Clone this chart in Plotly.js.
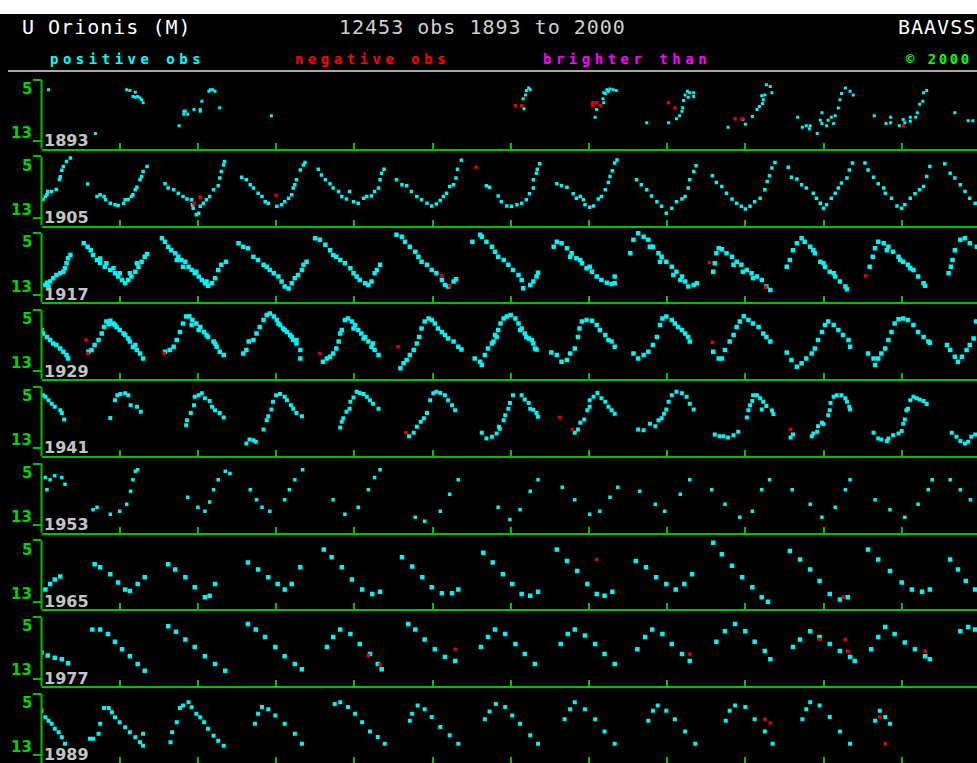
<!DOCTYPE html>
<html>
<head>
<meta charset="utf-8">
<script src="https://cdn.plot.ly/plotly-3.0.1.min.js"></script>
<style>
html,body{margin:0;padding:0;background:#000;overflow:hidden;}
#chart{width:977px;height:763px;}
</style>
</head>
<body>
<div id="chart"></div>
<script>
// ---- panel start years (12-year strips) ----
const panelStarts = [1893, 1905, 1917, 1929, 1941, 1953, 1965, 1977, 1989];
const yearLabels = ["1893", "1905", "1917", "1929", "1941", "1953", "1965", "1977", "1989"];
const magTicks = [5, 13];
const magTickLabels = ["5", "13"];

// ---- observations [decimal year, magnitude] ----
const pos1893 = [[1893.09,6.3],[1893.69,12.0],
[1894.09,6.3],[1894.13,6.4],[1894.20,6.65],[1894.17,7.2],[1894.20,7.3],[1894.23,7.2],[1894.26,7.4],[1894.28,7.6],[1894.30,8.0],
[1894.76,11.0],[1894.82,9.1],[1894.84,9.1],[1894.82,9.5],[1894.87,9.5],[1894.95,8.9],[1895.03,8.9],[1895.03,9.1],[1895.05,7.8],[1895.14,6.5],[1895.16,6.3],[1895.19,6.3],[1895.22,6.5],[1895.28,8.65],[1895.94,9.7],
[1899.23,6.1],[1899.25,6.3],[1899.20,6.4],[1899.19,7.0],[1899.16,7.5],[1899.17,8.8],
[1900.19,6.7],[1900.23,6.3],[1900.27,6.2],[1900.31,6.3],[1900.35,6.4],[1900.21,6.8],[1900.25,6.5],[1900.18,7.5],[1900.19,8.0],[1900.10,8.9],[1900.08,9.9],
[1900.74,10.6],[1901.02,10.6],[1901.12,10.1],[1901.16,9.7],[1901.19,9.1],[1901.20,8.65],[1901.21,7.7],[1901.23,7.0],[1901.26,6.5],[1901.29,6.7],[1901.34,6.7],[1901.34,7.2],[1901.27,7.3],
[1901.78,11.2],[1902.00,10.8],[1901.97,10.2],[1902.09,9.8],[1902.15,8.9],[1902.18,8.5],[1902.22,8.1],[1902.23,7.6],[1902.25,7.0],[1902.27,5.65],[1902.32,5.9],[1902.34,6.7],[1902.21,7.1],
[1902.67,9.9],[1902.73,11.2],[1902.78,11.0],[1902.83,11.0],[1902.82,11.4],[1902.92,12.0],[1902.96,10.3],[1902.98,9.3],[1902.98,10.7],[1903.04,11.0],[1903.06,10.3],[1903.10,9.9],[1903.13,10.7],[1903.15,9.7],[1903.19,8.7],[1903.21,7.6],[1903.23,6.8],[1903.28,6.1],[1903.34,6.5],[1903.38,7.0],
[1903.65,9.7],[1903.80,10.7],[1903.86,9.9],[1903.86,10.6],[1903.97,11.0],[1904.02,10.2],[1904.04,10.6],[1904.11,10.4],[1904.11,9.9],[1904.18,9.9],[1904.20,9.3],[1904.23,8.2],[1904.27,7.8],[1904.28,6.7],[1904.32,6.4],
[1904.68,9.3],[1904.85,10.35],[1904.91,10.35]];
const neg1893 = [[1899.06,8.4],[1899.14,8.4],[1900.05,8.0],[1900.10,8.0],[1900.05,8.4],[1900.15,8.4],[1901.02,8.0],[1901.10,8.7],[1901.87,10.1],[1901.96,10.1],[1904.02,11.0]];

const pos1905 = [[1905.02,10.6],[1905.05,10.2],[1905.07,10.0],[1905.08,9.55],[1905.13,9.55],[1905.19,9.3],[1905.23,8.0],[1905.24,7.65],[1905.26,6.8],[1905.28,6.3],[1905.32,5.65],[1905.37,5.2],[1905.59,8.6],
[1905.71,10.2],[1905.75,10.0],[1905.80,10.2],[1905.82,10.65],[1905.88,11.1],[1905.94,11.3],[1905.98,11.4],[1906.05,11.1],[1906.07,10.65],[1906.11,10.6],[1906.15,10.2],[1906.17,10.0],[1906.20,9.35],[1906.22,9.0],[1906.26,8.05],[1906.28,7.6],[1906.30,6.95],[1906.35,6.3],
[1906.58,8.55],[1906.62,9.1],[1906.69,9.35],[1906.75,9.8],[1906.81,10.2],[1906.86,10.55],[1906.92,10.65],[1906.93,11.3],[1906.94,11.75],[1906.98,12.6],[1907.01,12.4],[1907.03,11.5],[1907.07,11.1],[1907.11,10.65],[1907.15,10.2],[1907.20,9.35],[1907.26,8.8],[1907.28,7.8],[1907.30,6.95],[1907.33,6.1],[1907.34,5.65],
[1907.56,7.7],[1907.62,8.05],[1907.67,8.7],[1907.71,9.1],[1907.77,9.8],[1907.82,10.2],[1907.86,10.9],[1907.90,11.1],[1908.01,11.5],[1908.07,11.3],[1908.11,10.9],[1908.16,10.45],[1908.20,10.0],[1908.22,9.1],[1908.24,8.7],[1908.26,8.05],[1908.31,6.75],[1908.35,6.1],[1908.37,5.8],
[1908.54,6.65],[1908.58,7.4],[1908.63,8.05],[1908.69,8.55],[1908.73,9.1],[1908.80,9.55],[1908.84,10.2],[1908.90,10.55],[1908.94,9.55],[1908.99,10.9],[1909.05,11.1],[1909.12,10.45],[1909.16,10.2],[1909.22,10.15],[1909.26,9.55],[1909.31,9.1],[1909.33,8.05],[1909.35,7.2],[1909.38,6.65],
[1909.54,8.05],[1909.61,8.7],[1909.67,8.8],[1909.73,9.55],[1909.80,10.2],[1909.86,10.65],[1909.93,11.1],[1909.99,11.45],[1910.05,11.2],[1910.10,10.75],[1910.14,10.2],[1910.18,9.8],[1910.22,8.9],[1910.27,8.7],[1910.30,7.8],[1910.32,6.65],[1910.37,5.5],
[1910.69,8.8],[1910.73,9.0],[1910.84,10.15],[1910.88,10.9],[1910.95,11.45],[1911.01,11.5],[1911.08,11.3],[1911.14,11.1],[1911.20,10.65],[1911.24,9.85],[1911.29,9.1],[1911.29,8.05],[1911.33,7.2],[1911.34,6.65],[1911.37,5.95],
[1911.59,8.55],[1911.65,8.8],[1911.72,9.0],[1911.80,9.85],[1911.84,10.45],[1911.89,10.2],[1911.93,10.65],[1911.95,11.3],[1912.01,11.6],[1912.06,11.45],[1912.12,10.55],[1912.16,10.2],[1912.21,9.35],[1912.25,8.4],[1912.27,7.6],[1912.30,6.85],[1912.33,5.85],[1912.36,5.45],
[1912.61,8.05],[1912.67,8.7],[1912.74,9.35],[1912.80,10.15],[1912.87,10.9],[1912.93,11.5],[1912.99,12.4],[1913.06,11.75],[1913.12,10.9],[1913.19,10.55],[1913.23,10.2],[1913.27,9.1],[1913.29,8.05],[1913.34,6.95],[1913.37,6.2],
[1913.58,7.5],[1913.63,8.4],[1913.70,8.9],[1913.76,9.8],[1913.83,10.55],[1913.89,11.1],[1913.95,11.5],[1914.00,11.85],[1914.06,11.5],[1914.12,10.9],[1914.19,10.45],[1914.25,9.35],[1914.28,8.25],[1914.31,7.5],[1914.34,6.5],[1914.38,5.8],
[1914.55,6.4],[1914.59,7.7],[1914.66,7.95],[1914.72,8.7],[1914.78,9.1],[1914.87,9.8],[1914.91,10.45],[1914.96,11.1],[1915.00,11.75],[1915.04,11.3],[1915.10,10.45],[1915.15,9.8],[1915.19,9.1],[1915.23,8.45],[1915.30,7.8],[1915.33,6.75],[1915.37,5.85],
[1915.53,5.85],[1915.57,6.75],[1915.64,7.7],[1915.70,8.55],[1915.77,9.1],[1915.79,9.8],[1915.87,10.45],[1915.94,11.45],[1916.00,11.75],[1916.04,11.3],[1916.11,10.45],[1916.17,9.85],[1916.23,9.35],[1916.28,8.9],[1916.32,7.6],[1916.36,6.3],
[1916.55,5.95],[1916.62,7.2],[1916.68,7.8],[1916.75,8.7],[1916.81,9.55],[1916.87,10.45],[1916.94,11.1]];
const neg1905 = [[1906.95,11.1],[1907.03,10.3],[1908.00,10.05],[1910.56,6.4]];

const pos1917 = [[1917.05,11.75],[1917.07,11.45],[1917.09,11.95],[1917.11,11.3],[1917.15,10.85],[1917.19,10.45],[1917.24,10.2],[1917.28,10.0],[1917.30,9.55],[1917.32,8.9],[1917.34,8.25],[1917.37,7.85],
[1917.54,6.3],[1917.59,6.75],[1917.63,7.2],[1917.66,7.85],[1917.71,8.5],[1917.75,8.85],[1917.81,9.35],[1917.88,9.8],[1917.94,10.2],[1917.98,10.65],[1918.03,11.1],[1918.07,11.5],[1918.11,11.1],[1918.15,10.65],[1918.20,10.0],[1918.24,9.35],[1918.28,8.7],[1918.32,8.05],[1918.35,7.7],
[1917.75,8.3],[1917.83,8.9],[1917.92,9.55],[1918.00,10.2],[1918.13,10.2],[1918.22,8.9],
[1918.54,5.65],[1918.58,6.1],[1918.62,6.75],[1918.66,7.2],[1918.71,7.6],[1918.75,8.05],[1918.79,8.5],[1918.84,8.7],[1918.88,9.35],[1918.92,9.8],[1918.96,10.2],[1919.01,10.65],[1919.05,11.1],[1919.09,11.5],[1919.13,11.85],[1919.18,11.5],[1919.22,10.85],[1919.26,9.8],[1919.30,9.1],[1919.36,8.7],
[1918.73,8.5],[1918.81,9.35],[1918.98,10.0],[1919.11,11.3],
[1919.52,6.3],[1919.58,6.75],[1919.64,6.95],[1919.71,8.05],[1919.77,8.5],[1919.84,9.1],[1919.88,9.35],[1919.92,9.8],[1919.97,10.2],[1920.03,10.65],[1920.07,11.3],[1920.11,11.95],[1920.16,12.2],[1920.20,11.5],[1920.24,10.85],[1920.28,10.45],[1920.33,9.8],[1920.35,9.1],[1920.39,8.7],
[1920.50,5.65],[1920.56,5.85],[1920.63,6.5],[1920.69,7.2],[1920.73,7.85],[1920.77,8.05],[1920.82,8.5],[1920.88,8.9],[1920.95,9.55],[1920.99,10.2],[1921.03,10.65],[1921.07,11.1],[1921.14,11.5],[1921.18,11.75],[1921.22,11.3],[1921.26,10.2],[1921.29,9.8],[1921.33,9.1],
[1921.54,5.2],[1921.61,5.45],[1921.65,6.1],[1921.71,6.75],[1921.78,7.4],[1921.82,8.05],[1921.86,8.7],[1921.93,9.1],[1921.99,9.8],[1922.05,10.2],[1922.12,11.1],[1922.16,11.75],[1922.20,11.95],[1922.27,11.3],[1922.30,11.0],
[1922.51,6.1],[1922.61,5.2],[1922.63,5.45],[1922.69,6.1],[1922.76,6.75],[1922.80,7.4],[1922.84,8.05],[1922.91,8.5],[1922.97,9.1],[1923.03,9.8],[1923.10,10.45],[1923.14,11.1],[1923.16,12.15],[1923.25,11.75],[1923.29,11.3],[1923.33,10.65],[1923.35,10.15],
[1923.55,6.75],[1923.59,6.1],[1923.65,6.3],[1923.72,6.95],[1923.78,7.6],[1923.84,8.25],[1923.91,8.9],[1923.97,9.55],[1924.04,10.0],[1924.10,10.65],[1924.16,11.1],[1924.23,11.45],[1924.29,11.6],[1924.33,10.65],[1924.33,11.5],
[1923.76,8.05],[1923.89,8.5],[1924.01,9.35],
[1924.53,7.6],[1924.57,5.85],[1924.63,5.0],[1924.70,5.45],[1924.76,5.85],[1924.82,6.75],[1924.89,7.6],[1924.93,8.05],[1924.99,8.7],[1925.06,9.35],[1925.12,10.0],[1925.19,10.65],[1925.23,11.3],[1925.27,11.95],[1925.34,11.75],[1925.38,11.5],
[1924.78,6.75],[1924.91,8.7],[1925.08,10.45],[1925.17,11.1],
[1925.59,10.0],[1925.61,8.9],[1925.63,7.6],[1925.66,6.95],[1925.70,7.1],[1925.76,7.6],[1925.83,8.05],[1925.89,8.7],[1925.95,9.1],[1926.02,9.8],[1926.08,10.2],[1926.15,10.65],[1926.21,11.1],[1926.27,11.95],[1926.32,12.4],
[1925.85,9.1],[1925.97,10.0],[1926.10,10.85],
[1926.53,9.35],[1926.57,8.5],[1926.61,7.2],[1926.66,6.3],[1926.72,5.65],[1926.76,6.1],[1926.83,6.75],[1926.89,7.6],[1926.96,8.7],[1927.02,9.35],[1927.08,10.0],[1927.15,10.65],[1927.21,11.3],[1927.28,11.95],[1927.30,12.3],
[1926.87,7.2],[1927.00,8.9],[1927.13,10.2],
[1927.59,9.35],[1927.63,8.05],[1927.66,6.95],[1927.70,6.1],[1927.77,6.3],[1927.83,6.75],[1927.89,7.4],[1927.96,8.05],[1928.02,8.7],[1928.08,9.1],[1928.15,9.8],[1928.21,10.65],[1928.28,11.5],[1928.30,11.85],
[1927.81,7.2],[1927.98,8.5],[1928.11,9.55],
[1928.60,10.2],[1928.63,9.35],[1928.65,8.5],[1928.68,7.2],[1928.75,5.85],[1928.81,5.65],[1928.87,6.3],[1928.96,6.75]];
const neg1917 = [[1922.12,10.55],[1922.22,11.85],[1925.54,8.8],[1926.26,12.05],[1927.54,10.55]];

const pos1929 = [[1929.00,7.6],[1929.02,8.05],[1929.07,8.5],[1929.11,8.9],[1929.15,9.35],[1929.19,9.55],[1929.24,10.0],[1929.28,10.45],[1929.32,10.85],[1929.34,11.3],
[1929.60,10.45],[1929.64,10.2],[1929.68,9.55],[1929.73,8.9],[1929.77,8.05],[1929.80,7.2],[1929.83,6.5],[1929.88,6.4],[1929.92,6.75],[1929.96,7.2],[1930.00,7.6],[1930.07,8.25],[1930.13,9.1],[1930.17,9.8],[1930.22,10.2],[1930.26,10.65],[1930.30,11.3],
[1929.86,6.85],[1929.94,6.95],[1930.05,8.05],[1930.11,8.7],[1930.20,9.55],
[1930.58,10.45],[1930.64,10.2],[1930.69,9.8],[1930.73,8.9],[1930.77,7.85],[1930.81,6.75],[1930.85,5.85],[1930.89,5.8],[1930.93,6.3],[1930.98,6.75],[1931.03,7.2],[1931.08,7.85],[1931.13,8.5],[1931.20,9.1],[1931.24,9.8],[1931.28,10.45],[1931.33,10.85],
[1930.92,6.95],[1931.01,7.6],[1931.11,8.25],[1931.22,9.35],
[1931.58,10.65],[1931.62,10.2],[1931.65,9.1],[1931.71,8.9],[1931.75,8.05],[1931.79,7.2],[1931.84,6.3],[1931.88,5.65],[1931.92,5.45],[1931.97,5.85],[1932.01,6.3],[1932.05,6.95],[1932.09,7.4],[1932.14,7.85],[1932.18,8.25],[1932.22,8.9],[1932.26,9.35],[1932.31,10.2],[1932.31,11.3],
[1932.03,6.75],[1932.11,7.6],[1932.20,8.5],[1932.26,8.9],
[1932.60,11.75],[1932.65,11.3],[1932.69,11.1],[1932.73,10.65],[1932.77,10.0],[1932.80,9.1],[1932.82,8.05],[1932.84,7.6],[1932.88,6.3],[1932.92,6.1],[1932.97,6.5],[1933.01,6.95],[1933.05,7.6],[1933.09,8.05],[1933.14,8.5],[1933.18,9.1],[1933.22,9.8],[1933.26,10.2],[1933.31,10.85],
[1932.99,7.4],[1933.12,8.7],[1933.24,9.35],
[1933.59,12.6],[1933.63,11.95],[1933.67,11.5],[1933.71,10.85],[1933.76,10.2],[1933.80,9.35],[1933.83,8.5],[1933.86,7.4],[1933.90,6.5],[1933.95,6.1],[1933.99,6.3],[1934.03,6.75],[1934.07,7.4],[1934.12,7.85],[1934.16,8.25],[1934.20,8.7],[1934.27,9.1],[1934.33,9.8],[1934.37,10.15],
[1934.54,11.3],[1934.61,11.75],[1934.63,12.15],[1934.67,10.85],[1934.71,10.0],[1934.76,9.35],[1934.78,9.1],[1934.80,8.25],[1934.82,8.5],[1934.84,7.6],[1934.87,6.75],[1934.91,6.1],[1934.95,5.85],[1935.00,5.65],[1935.06,6.1],[1935.10,6.75],[1935.14,7.4],[1935.18,8.05],[1935.23,8.7],[1935.27,8.9],[1935.31,10.0],[1935.33,10.15],
[1935.12,7.6],[1935.20,8.5],[1935.29,9.35],
[1935.52,10.55],[1935.59,10.85],[1935.65,11.75],[1935.72,11.5],[1935.76,10.65],[1935.82,10.0],[1935.86,8.5],[1935.88,7.4],[1935.91,6.5],[1935.97,6.3],[1936.04,6.4],[1936.10,6.95],[1936.14,7.6],[1936.21,8.25],[1936.25,8.9],[1936.29,9.1],[1936.33,9.8],
[1936.57,10.65],[1936.63,11.3],[1936.70,10.85],[1936.76,10.45],[1936.82,9.55],[1936.87,8.5],[1936.91,6.95],[1936.94,6.1],[1936.99,5.85],[1937.06,6.3],[1937.10,6.75],[1937.14,7.2],[1937.19,7.6],[1937.23,8.05],[1937.27,8.5],[1937.29,9.1],
[1937.59,10.45],[1937.66,11.3],[1937.70,11.3],[1937.74,10.2],[1937.80,9.1],[1937.85,8.25],[1937.89,7.2],[1937.93,6.5],[1937.98,5.8],[1938.04,6.3],[1938.10,6.75],[1938.17,7.2],[1938.23,8.05],[1938.27,8.5],[1938.32,9.1],
[1938.53,10.55],[1938.59,11.5],[1938.66,12.4],[1938.72,11.95],[1938.78,11.3],[1938.85,10.65],[1938.89,10.0],[1938.93,8.9],[1938.98,7.85],[1939.02,6.95],[1939.06,6.5],[1939.13,6.95],[1939.19,7.6],[1939.25,8.25],[1939.32,8.9],[1939.34,9.8],
[1939.57,10.65],[1939.64,11.3],[1939.66,12.15],[1939.70,11.3],[1939.74,10.65],[1939.79,10.0],[1939.83,8.9],[1939.87,7.85],[1939.91,6.75],[1939.96,6.2],[1940.02,6.1],[1940.08,6.3],[1940.15,6.95],[1940.21,7.85],[1940.28,8.5],[1940.34,9.1],[1940.36,9.25],
[1940.58,9.55],[1940.62,10.2],[1940.68,11.1],[1940.72,11.75],[1940.77,11.1],[1940.83,10.2],[1940.87,9.55],[1940.92,8.7],[1940.95,6.5]];
const neg1929 = [[1929.57,8.9],[1929.59,10.65],[1930.57,10.65],[1932.56,10.65],[1933.56,9.8],[1937.58,9.2]];

const pos1941 = [[1941.02,6.1],[1941.05,6.3],[1941.09,6.75],[1941.13,7.2],[1941.17,7.6],[1941.24,8.05],[1941.26,8.4],[1941.29,9.25],
[1941.88,9.05],[1941.94,6.75],[1941.97,6.1],[1942.01,5.95],[1942.07,5.85],[1942.11,6.1],[1942.14,7.4],[1942.22,7.6],[1942.27,8.25],
[1942.85,10.0],[1942.86,9.35],[1942.91,8.4],[1942.95,7.4],[1942.96,6.3],[1943.01,6.1],[1943.05,5.85],[1943.09,6.5],[1943.15,6.85],[1943.18,7.6],[1943.22,8.05],[1943.28,8.4],[1943.33,9.0],
[1943.62,12.4],[1943.66,11.85],[1943.71,11.95],[1943.74,12.15],[1943.84,10.55],[1943.88,9.35],[1943.90,8.85],[1943.94,7.95],[1943.96,6.95],[1944.00,6.1],[1944.05,5.95],[1944.11,6.3],[1944.14,6.75],[1944.19,7.4],[1944.22,7.85],[1944.26,8.4],[1944.33,8.85],
[1944.82,10.3],[1944.84,9.55],[1944.86,9.1],[1944.90,8.25],[1944.94,7.85],[1944.95,6.95],[1944.99,6.4],[1945.03,5.65],[1945.07,5.8],[1945.12,5.95],[1945.16,6.3],[1945.20,6.75],[1945.24,7.2],[1945.31,7.85],
[1945.70,11.45],[1945.76,11.0],[1945.80,10.2],[1945.85,9.55],[1945.89,9.1],[1945.93,8.4],[1945.97,6.75],[1946.01,5.85],[1946.05,5.65],[1946.10,5.8],[1946.16,6.1],[1946.20,6.75],[1946.25,7.4],[1946.29,8.05],
[1946.63,11.0],[1946.69,11.75],[1946.76,11.5],[1946.82,11.1],[1946.85,10.2],[1946.86,10.45],[1946.91,9.35],[1946.93,8.7],[1946.97,7.85],[1946.99,7.1],[1947.03,6.1],[1947.14,6.1],[1947.18,6.65],[1947.23,7.1],[1947.25,7.85],[1947.29,8.0],[1947.33,8.4],[1947.35,8.9],
[1947.82,11.0],[1947.86,10.55],[1947.89,9.7],[1947.94,9.25],[1947.98,8.05],[1948.01,7.6],[1948.01,6.75],[1948.06,6.3],[1948.11,5.8],[1948.16,6.5],[1948.21,6.95],[1948.25,7.6],[1948.29,8.05],[1948.33,8.5],
[1948.63,10.55],[1948.70,10.65],[1948.78,9.8],[1948.85,10.15],[1948.89,9.35],[1948.93,9.1],[1948.96,8.5],[1948.99,7.95],[1949.02,6.95],[1949.06,6.1],[1949.12,5.65],[1949.19,5.85],[1949.25,6.3],[1949.29,7.2],[1949.34,7.95],
[1949.61,11.2],[1949.67,11.45],[1949.72,11.45],[1949.78,11.6],[1949.85,11.3],[1949.91,10.85],[1950.02,9.0],[1950.04,8.05],[1950.06,7.4],[1950.10,6.1],[1950.15,6.1],[1950.19,6.5],[1950.23,6.95],[1950.27,7.5],[1950.34,8.1],[1950.36,8.55],[1950.09,6.85],[1950.21,7.95],
[1950.58,11.6],[1950.61,11.2],[1950.85,11.45],[1950.87,11.1],[1950.92,10.85],[1950.93,10.15],[1950.98,9.7],[1951.00,9.85],[1951.06,8.7],[1951.08,8.05],[1951.09,7.1],[1951.13,6.3],[1951.17,6.1],[1951.23,6.1],[1951.28,6.5],[1951.30,6.95],[1951.33,7.6],[1951.34,7.95],
[1951.64,11.0],[1951.70,11.75],[1951.74,11.85],[1951.81,12.05],[1951.83,11.75],[1951.89,11.3],[1951.96,11.1],[1952.00,10.75],[1952.02,9.8],[1952.04,9.25],[1952.06,8.05],[1952.08,7.85],[1952.11,6.75],[1952.15,6.3],[1952.19,6.5],[1952.23,6.65],[1952.28,6.85],[1952.32,7.25],
[1952.64,11.0],[1952.70,11.5],[1952.75,12.05],[1952.81,12.4],[1952.85,12.15],[1952.89,11.5],[1952.94,11.2]];
const neg1941 = [[1945.66,11.0],[1947.63,9.0],[1947.79,10.55],[1950.58,10.55]];

const pos1953 = [[1953.05,6.8],[1953.07,8.4],[1953.11,7.1],[1953.17,6.6],[1953.26,6.8],[1953.30,7.7],
[1953.66,11.0],[1953.71,10.7],[1953.88,11.6],[1954.00,11.2],[1954.09,10.3],[1954.14,8.6],[1954.17,7.1],[1954.20,6.0],[1954.23,5.8],
[1954.87,9.4],[1955.00,10.7],[1955.09,11.2],[1955.15,10.0],[1955.20,8.4],[1955.26,7.1],[1955.35,6.0],[1955.41,6.3],
[1955.67,8.4],[1955.75,9.7],[1955.82,10.7],[1955.92,11.2],[1956.11,9.7],[1956.17,8.4],[1956.24,7.1],[1956.34,5.8],
[1956.73,9.7],[1956.88,11.6],[1957.05,10.7],[1957.18,8.4],[1957.26,6.8],[1957.33,5.8],
[1957.78,12.0],[1957.90,12.5],[1958.10,11.2],[1958.22,9.0],[1958.33,7.1],
[1958.84,10.7],[1958.99,12.3],[1959.12,11.0],[1959.25,8.6],[1959.35,7.1],
[1959.66,8.1],[1959.82,9.7],[1960.01,11.6],[1960.14,11.2],[1960.27,9.4],[1960.37,8.1],
[1960.65,8.6],[1960.85,10.3],[1960.97,11.2],[1961.17,9.0],[1961.29,7.1],
[1961.57,8.4],[1961.74,10.3],[1961.93,12.0],[1962.09,11.2],[1962.21,8.4],[1962.31,7.1],
[1962.60,8.4],[1962.83,10.3],[1962.98,12.0],[1963.15,10.7],[1963.28,8.4],[1963.34,7.1],
[1963.66,9.7],[1963.85,11.0],[1964.04,12.0],[1964.21,10.3],[1964.34,8.4],[1964.39,7.1],
[1964.62,7.1],[1964.75,8.4],[1964.88,9.7]];
const neg1953 = [];

const pos1965 = [[1965.05,11.4],[1965.11,10.7],[1965.17,10.1],[1965.24,9.7],
[1965.68,8.1],[1965.75,8.5],[1965.88,9.4],[1965.98,10.5],[1966.07,11.4],[1966.13,11.6],[1966.23,10.7],[1966.32,9.8],
[1966.62,8.1],[1966.71,8.8],[1966.84,9.8],[1966.96,11.1],[1967.09,12.4],[1967.15,12.2],[1967.22,10.7],
[1967.64,7.9],[1967.77,8.8],[1967.90,9.8],[1968.02,10.7],[1968.11,11.4],[1968.20,10.7],[1968.31,8.5],
[1968.61,6.2],[1968.71,7.2],[1968.84,8.5],[1968.97,10.1],[1969.10,11.4],[1969.23,12.0],[1969.33,11.7],
[1969.61,7.2],[1969.74,8.4],[1969.87,9.8],[1969.99,11.1],[1970.12,11.9],[1970.25,11.9],[1970.33,11.4],
[1970.65,6.6],[1970.77,7.9],[1970.90,9.4],[1971.02,10.7],[1971.14,12.0],[1971.25,12.2],[1971.35,11.7],
[1971.59,6.2],[1971.72,7.7],[1971.85,9.0],[1971.98,10.7],[1972.10,12.0],[1972.20,12.2],[1972.30,11.7],
[1972.60,7.7],[1972.73,8.5],[1972.86,9.8],[1972.99,10.7],[1973.11,11.4],[1973.22,10.7],[1973.32,9.4],
[1973.59,5.3],[1973.70,6.8],[1973.83,8.3],[1973.96,9.8],[1974.09,11.1],[1974.21,12.4],[1974.29,13.0],
[1974.57,6.4],[1974.70,7.5],[1974.83,8.8],[1974.95,10.3],[1975.08,12.0],[1975.21,12.7],[1975.31,12.4],
[1975.57,6.2],[1975.70,7.5],[1975.85,9.0],[1976.00,10.5],[1976.13,11.4],[1976.26,11.7],[1976.36,11.4],
[1976.62,7.5],[1976.72,8.8],[1976.82,10.3],[1976.94,11.4]];
const neg1965 = [[1972.10,7.5],[1975.25,12.4]];

const pos1977 = [[1977.00,9.6],[1977.08,10.0],[1977.17,10.3],[1977.26,10.5],[1977.34,11.0],
[1977.65,6.6],[1977.75,6.6],[1977.85,7.2],[1977.94,8.2],[1978.03,9.2],[1978.13,10.1],[1978.23,11.1],[1978.32,12.0],
[1978.62,6.2],[1978.72,6.9],[1978.84,7.9],[1978.96,8.9],[1979.09,10.1],[1979.22,11.1],[1979.35,12.0],
[1979.64,5.9],[1979.74,6.6],[1979.86,7.6],[1979.99,8.9],[1980.11,10.1],[1980.24,11.1],[1980.33,11.8],
[1980.65,8.9],[1980.73,7.6],[1980.82,6.6],[1980.95,7.2],[1981.07,8.5],[1981.20,9.8],[1981.30,11.1],[1981.35,11.8],
[1981.69,5.9],[1981.78,6.6],[1981.90,7.9],[1982.03,9.2],[1982.16,10.2],[1982.29,10.7],
[1982.62,8.9],[1982.71,7.6],[1982.80,6.6],[1982.93,7.2],[1983.06,8.5],[1983.18,9.8],[1983.31,11.1],
[1983.64,8.5],[1983.73,7.2],[1983.82,6.6],[1983.95,7.4],[1984.08,8.5],[1984.20,9.8],[1984.33,11.1],
[1984.62,9.2],[1984.72,7.6],[1984.81,6.6],[1984.94,7.2],[1985.06,8.5],[1985.19,9.8],[1985.29,10.7],
[1985.63,8.2],[1985.74,6.85],[1985.87,5.9],[1986.00,6.85],[1986.12,8.2],[1986.25,9.4],[1986.32,10.5],
[1986.61,8.9],[1986.70,7.9],[1986.83,6.85],[1986.95,7.6],[1987.08,8.5],[1987.21,9.4],[1987.34,10.2],[1987.40,10.7],
[1987.61,9.2],[1987.70,7.6],[1987.79,6.3],[1987.91,7.2],[1988.04,8.3],[1988.17,9.2],[1988.30,10.1],[1988.36,10.5],
[1988.75,6.85],[1988.85,6.3],[1988.94,6.6]];
const neg1977 = [[1981.18,10.0],[1981.33,11.2],[1982.29,9.2],[1985.29,9.8],[1986.95,7.9],[1987.28,7.9],[1987.31,9.45],[1988.30,9.45]];

const pos1989 = [[1989.00,7.2],[1989.05,8.05],[1989.09,8.5],[1989.13,8.9],[1989.17,9.55],[1989.22,10.0],[1989.26,10.65],[1989.30,11.5],
[1989.62,10.85],[1989.66,10.85],[1989.73,10.2],[1989.75,8.9],[1989.80,6.85],[1989.86,6.85],[1989.90,7.4],[1989.94,8.05],[1990.00,8.7],[1990.07,9.35],[1990.13,10.0],[1990.20,10.65],[1990.26,11.3],[1990.30,11.75],[1990.30,10.2],
[1990.65,11.3],[1990.67,10.0],[1990.73,8.7],[1990.77,6.85],[1990.81,6.5],[1990.88,6.1],[1990.92,6.75],[1990.98,7.6],[1991.03,8.05],[1991.08,8.7],[1991.13,9.55],[1991.20,10.45],[1991.26,11.1],[1991.33,11.75],
[1991.73,8.9],[1991.77,7.6],[1991.82,6.7],[1991.90,7.0],[1991.99,7.8],[1992.11,8.9],[1992.24,10.2],[1992.33,11.5],
[1992.75,6.3],[1992.82,6.1],[1992.92,6.7],[1993.01,7.6],[1993.10,8.7],[1993.20,9.9],[1993.30,10.6],[1993.39,11.5],
[1993.71,8.5],[1993.74,7.6],[1993.81,6.5],[1993.90,7.0],[1993.99,8.0],[1994.10,9.3],[1994.22,10.4],[1994.33,11.5],
[1994.67,8.3],[1994.73,7.3],[1994.81,6.3],[1994.93,6.7],[1995.02,7.8],[1995.12,8.9],[1995.25,10.4],[1995.35,11.5],
[1995.69,8.3],[1995.76,7.0],[1995.82,6.1],[1995.95,7.0],[1996.08,8.3],[1996.20,9.9],[1996.33,11.5],
[1996.76,8.5],[1996.82,7.2],[1996.88,6.5],[1996.99,7.2],[1997.10,8.3],[1997.23,9.9],[1997.36,11.5],
[1997.75,8.5],[1997.80,7.2],[1997.87,6.5],[1998.00,6.7],[1998.12,8.3],[1998.25,9.9],[1998.35,11.5],
[1998.73,8.3],[1998.78,7.0],[1998.83,6.1],[1998.95,6.5],[1999.08,8.0],[1999.21,9.9],[1999.34,11.5],
[1999.66,8.5],[1999.72,7.2],[1999.79,8.0],[1999.85,8.9]];
const neg1989 = [[1998.25,8.3],[1998.32,8.8],[1999.72,8.0],[1999.79,11.5]];

const positiveSets = [pos1893, pos1905, pos1917, pos1929, pos1941, pos1953, pos1965, pos1977, pos1989];
const negativeSets = [neg1893, neg1905, neg1917, neg1929, neg1941, neg1953, neg1965, neg1977, neg1989];

// ---- styling ----
const W = 977, H = 763;
const GREEN = '#00c000', LABELGREEN = '#00d400', CYAN = '#00f4f4', RED = '#e00000';
const markerSizes = [3, 3.5, 4.5, 4.5, 4, 3.5, 4.5, 4.5, 4];
const nP = panelStarts.length;
const xStartPx = 41.5, pxPerYear = 78.2;
const span = (W - xStartPx) / pxPerYear;
const mTop = 72, mBot = 0;
const plotH = H - mTop - mBot;
const pyToPaper = py => (H - mBot - py) / plotH;

const data = [];
const layout = {
  width: W, height: H,
  margin: {l: 0, r: 0, t: mTop, b: mBot, pad: 0},
  paper_bgcolor: '#000', plot_bgcolor: '#000',
  showlegend: false,
  annotations: [], shapes: []
};

for (let k = 0; k < nP; k++) {
  const s = panelStarts[k];
  const id = k === 0 ? '' : String(k + 1);
  const xa = 'x' + id, ya = 'y' + id;
  const pos = positiveSets[k], neg = negativeSets[k];
  data.push({type: 'scatter', mode: 'markers', xaxis: xa, yaxis: ya,
    x: pos.map(p => p[0]), y: pos.map(p => p[1]),
    marker: {symbol: 'square', size: markerSizes[k], color: CYAN, line: {width: 0}}, hoverinfo: 'skip'});
  data.push({type: 'scatter', mode: 'markers', xaxis: xa, yaxis: ya,
    x: neg.map(p => p[0]), y: neg.map(p => p[1]),
    marker: {symbol: 'square', size: 3.5, color: RED, line: {width: 0}}, hoverinfo: 'skip'});
  const tv = [];
  for (let t = 1; t < 12; t++) tv.push(s + t);
  layout['xaxis' + id] = {
    domain: [xStartPx / W, 1], range: [s, s + span], anchor: ya,
    showline: true, linecolor: GREEN, linewidth: 2, mirror: false,
    ticks: 'inside', tickvals: tv, ticklen: 6, tickwidth: 2, tickcolor: GREEN,
    showgrid: false, zeroline: false, showticklabels: false, fixedrange: true
  };
  layout['yaxis' + id] = {
    domain: [1 - (k + 1) / nP, 1 - k / nP], range: [14, 4], anchor: xa,
    showline: false, ticks: 'outside', tickvals: magTicks, ticklen: 8, tickwidth: 2, tickcolor: GREEN,
    showgrid: false, zeroline: false, showticklabels: false, fixedrange: true
  };
  layout.shapes.push({type: 'line', xref: xa + ' domain', yref: ya, x0: 0, x1: 0, y0: 5, y1: 14,
    line: {color: GREEN, width: 2}});
  const lblFont = {family: 'DejaVu Sans', size: 15, color: LABELGREEN, weight: 'bold'};
  layout.annotations.push({xref: 'paper', yref: ya, x: 33.5 / W, y: 6.2, text: magTickLabels[0],
    showarrow: false, xanchor: 'right', yanchor: 'middle', align: 'right', font: lblFont});
  layout.annotations.push({xref: 'paper', yref: ya, x: 33.5 / W, y: 11.95, text: magTickLabels[1],
    showarrow: false, xanchor: 'right', yanchor: 'middle', align: 'right', font: lblFont});
  layout.annotations.push({xref: 'paper', yref: ya, x: 42.5 / W, y: 12.95, text: yearLabels[k],
    showarrow: false, xanchor: 'left', yanchor: 'middle', align: 'left', height: 13, borderpad: 0,
    font: {family: 'DejaVu Sans', size: 16, color: '#c4c4c4', weight: 'bold'}});
}

// header
layout.shapes.push({type: 'rect', xref: 'paper', yref: 'paper', x0: -0.01, x1: 1.01,
  y0: pyToPaper(14), y1: pyToPaper(-5), fillcolor: '#ffffff', line: {width: 0}});
layout.shapes.push({type: 'line', xref: 'paper', yref: 'paper', x0: 8 / W, x1: 1.01,
  y0: pyToPaper(71), y1: pyToPaper(71), line: {color: '#a8a8a8', width: 2}});

const headFont = (c) => ({family: 'DejaVu Sans Mono', size: 20, color: c});
const legFont = (c) => ({family: 'DejaVu Sans Mono', size: 14, color: c, weight: 'bold'});
const headY = pyToPaper(27), legY = pyToPaper(59);
const header = [
  {t: 'U Orionis (M)', x: 20, y: headY, f: headFont('#ffffff')},
  {t: '12453 obs 1893 to 2000', x: 337, y: headY, f: headFont('#cfcfcf')},
  {t: 'BAAVSS', x: 896, y: headY, f: headFont('#ffffff')},
  {t: 'positive obs', x: 48, y: legY, f: legFont('#00ffff')},
  {t: 'negative obs', x: 293, y: legY, f: legFont('#ff0000')},
  {t: 'brighter than', x: 541, y: legY, f: legFont('#ff00ff')},
  {t: '\u00a9 2000', x: 904, y: legY, f: legFont('#00ff00')}
];
header.forEach(h => layout.annotations.push({xref: 'paper', yref: 'paper', x: h.x / W, y: h.y,
  text: h.t, showarrow: false, xanchor: 'left', yanchor: 'middle', align: 'left', font: h.f}));

const spacing = {
  'U Orionis (M)': '1px', '12453 obs 1893 to 2000': '1px', 'BAAVSS': '1px',
  'positive obs': '4.5px', 'negative obs': '4.5px', 'brighter than': '4.5px', '\u00a9 2000': '2.5px'
};

Plotly.newPlot('chart', data, layout, {staticPlot: true, displayModeBar: false}).then(function () {
  document.querySelectorAll('.annotation-text').forEach(function (el) {
    const s = el.textContent;
    if (spacing[s]) el.style.letterSpacing = spacing[s];
  });
});
</script>
</body>
</html>
